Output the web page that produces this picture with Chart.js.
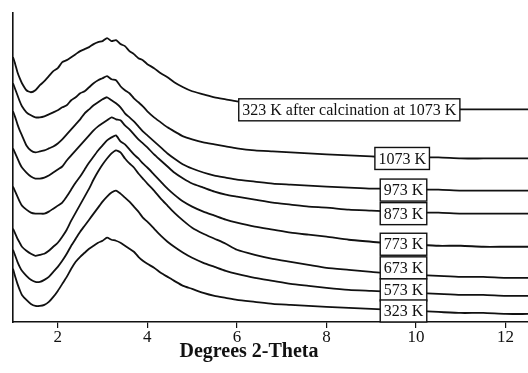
<!DOCTYPE html>
<html>
<head>
<meta charset="utf-8">
<title>Degrees 2-Theta</title>
<script src="https://cdn.jsdelivr.net/npm/chart.js@4"></script>
<style>
    html, body { margin: 0; padding: 0; background: #fff; }
    canvas { display: block; }
</style>
</head>
<body>
<canvas id="xrdChart" width="528" height="373"></canvas>
<script>
/* ---------- data (intensity offset, arbitrary units) ---------- */

const twoTheta = [1.00, 1.05, 1.10, 1.15, 1.20, 1.30, 1.40, 1.50, 1.60, 1.70, 1.80, 1.90, 2.00, 2.10, 2.20, 2.30, 2.40, 2.50, 2.60, 2.70, 2.80, 2.90, 3.00, 3.10, 3.20, 3.30, 3.40, 3.50, 3.60, 3.70, 3.80, 3.90, 4.00, 4.15, 4.30, 4.45, 4.60, 4.80, 5.00, 5.25, 5.50, 5.75, 6.00, 6.40, 6.80, 7.20, 7.60, 8.00, 8.50, 9.00, 9.50, 10.00, 10.50, 11.00, 11.50, 12.00, 12.50];

const calcined1073 = [264, 257, 249, 243, 238, 231, 229, 231, 236, 240, 245, 250, 253, 259, 261, 264, 267, 270, 272, 274, 277, 279, 280, 283, 280, 281, 277, 275, 270, 267, 263, 261, 257, 253, 248, 244, 239, 234, 230, 227, 224, 222, 220, 219, 218, 217, 216, 216, 215, 214, 214, 213, 213, 212, 212, 212, 212];
const k1073 = [238, 232, 226, 220, 215, 209, 206, 204, 204, 205, 207, 209, 211, 214, 216, 221, 224, 228, 230, 234, 238, 241, 243, 245, 242, 241, 235, 231, 228, 223, 219, 215, 210, 204, 199, 194, 190, 185, 182, 179, 177, 175, 173, 171, 170, 169, 168, 167, 166, 165, 164, 164, 164, 163, 163, 163, 163];
const k973 = [210, 204, 197, 191, 186, 176, 171, 169, 170, 171, 173, 175, 178, 182, 187, 192, 197, 202, 208, 212, 216, 219, 222, 224, 221, 218, 214, 208, 204, 200, 195, 190, 186, 180, 174, 168, 163, 157, 153, 149, 146, 144, 142, 140, 138, 137, 136, 135, 134, 133, 133, 132, 132, 131, 131, 131, 131];
const k873 = [173, 168, 163, 158, 154, 149, 145, 143, 143, 144, 146, 149, 152, 155, 161, 166, 171, 176, 181, 186, 191, 195, 198, 201, 204, 202, 201, 196, 192, 187, 182, 178, 174, 167, 161, 155, 149, 143, 138, 134, 130, 127, 125, 122, 119, 117, 115, 114, 112, 111, 110, 109, 109, 108, 108, 108, 108];
const k773 = [135, 130, 125, 120, 116, 112, 109, 108, 108, 108, 110, 113, 116, 119, 125, 132, 139, 145, 152, 159, 165, 171, 176, 181, 184, 186, 180, 177, 172, 167, 163, 158, 154, 147, 140, 133, 127, 120, 115, 110, 106, 102, 99, 95, 92, 89, 87, 85, 82, 80, 78, 77, 76, 76, 75, 75, 75];
const k673 = [93, 88, 83, 79, 75, 71, 68, 66, 67, 68, 71, 75, 79, 85, 92, 101, 109, 117, 125, 133, 142, 150, 157, 163, 168, 171, 169, 163, 158, 154, 148, 143, 138, 131, 123, 116, 109, 101, 94, 88, 83, 78, 72, 67, 63, 60, 57, 54, 52, 50, 48, 47, 46, 45, 45, 44, 44];
const k573 = [72, 66, 60, 55, 51, 46, 42, 40, 40, 42, 45, 50, 55, 61, 68, 76, 83, 90, 96, 102, 108, 114, 120, 125, 129, 131, 128, 124, 120, 115, 110, 104, 100, 93, 86, 80, 75, 69, 64, 59, 55, 51, 48, 44, 41, 38, 36, 34, 32, 31, 30, 29, 28, 27, 27, 26, 26];
const k323 = [53, 45, 38, 32, 27, 22, 18, 16, 16, 17, 20, 25, 31, 38, 45, 53, 60, 65, 69, 73, 76, 79, 81, 84, 82, 81, 79, 76, 73, 70, 65, 61, 58, 54, 49, 45, 41, 36, 33, 29, 26, 24, 22, 20, 18, 17, 16, 15, 14, 13, 12, 11, 10, 9, 9, 8, 8];

const seriesLabels = ["323 K after calcination at 1073 K", "1073 K", "973 K", "873 K", "773 K", "673 K", "573 K", "323 K"];
const seriesValues = [calcined1073, k1073, k973, k873, k773, k673, k573, k323];

const xTicks = [2, 4, 6, 8, 10, 12];

// where each boxed label sits (2-theta, intensity)
const labelX = [8.51, 9.69, 9.72, 9.72, 9.72, 9.72, 9.72, 9.72];
const labelY = [211.5, 163, 131.5, 108, 77.5, 54, 32, 11];

const SERIF = "'Liberation Serif', 'Times New Roman', serif";


/* ---------- boxed labels + axis title ---------- */

const boxedLabels = {
    id: "boxedLabels",
    afterDatasetsDraw(chart) {
        const { ctx, scales: { x, y } } = chart;
        ctx.save();
        ctx.font = `16px ${SERIF}`;
        ctx.textAlign = "center";
        ctx.textBaseline = "middle";
        seriesLabels.forEach((text, i) => {
            const cx = x.getPixelForValue(labelX[i]);
            const cy = y.getPixelForValue(labelY[i]);
            const w = ctx.measureText(text).width + 7;
            const h = 22;
            ctx.fillStyle = "#fff";
            ctx.fillRect(cx - w / 2, cy - h / 2, w, h);
            ctx.strokeStyle = "#111";
            ctx.lineWidth = 1.4;
            ctx.strokeRect(cx - w / 2, cy - h / 2, w, h);
            ctx.fillStyle = "#111";
            ctx.fillText(text, cx, cy + 1);
        });
        ctx.restore();
    }
};

const axisTitle = {
    id: "axisTitle",
    afterDraw(chart) {
        const { ctx, scales: { x } } = chart;
        ctx.save();
        ctx.font = `bold 20px ${SERIF}`;
        ctx.fillStyle = "#111";
        ctx.textAlign = "center";
        ctx.textBaseline = "alphabetic";
        ctx.fillText("Degrees 2-Theta", x.getPixelForValue(6.27), 357);
        ctx.restore();
    }
};


/* ---------- chart ---------- */

new Chart(document.getElementById("xrdChart").getContext("2d"), {
    type: "line",
    data: {
        labels: twoTheta,
        datasets: seriesValues.map((values, i) => ({
            label: seriesLabels[i],
            data: values.map((v, j) => ({ x: twoTheta[j], y: v })),
            borderColor: "#111",
            borderWidth: 1.8,
            pointRadius: 0,
            tension: 0.2,
            fill: false
        }))
    },
    options: {
        responsive: false,
        animation: false,
        layout: {
            padding: { left: 0, top: 13, right: 0, bottom: 26 }
        },
        plugins: {
            legend: { display: false },
            tooltip: { enabled: false }
        },
        scales: {
            x: {
                type: "linear",
                min: 1,
                max: 12.5,
                afterBuildTicks(scale) {
                    scale.ticks = xTicks.map(value => ({ value }));
                },
                grid: {
                    display: true,
                    drawOnChartArea: false,
                    drawTicks: true,
                    tickLength: 6,
                    tickColor: "#111",
                    lineWidth: 1.2
                },
                border: { display: true, color: "#111", width: 1.6 },
                ticks: {
                    color: "#111",
                    padding: 1,
                    maxRotation: 0,
                    font: { family: SERIF, size: 17, lineHeight: 1 }
                }
            },
            y: {
                min: 0,
                max: 308,
                // invisible tick marks only reserve the 13px left margin
                grid: {
                    display: true,
                    drawOnChartArea: false,
                    drawTicks: true,
                    tickLength: 13,
                    tickColor: "rgba(0,0,0,0)"
                },
                border: { display: true, color: "#111", width: 1.6 },
                ticks: { display: false }
            }
        }
    },
    plugins: [boxedLabels, axisTitle]
});
</script>
</body>
</html>
